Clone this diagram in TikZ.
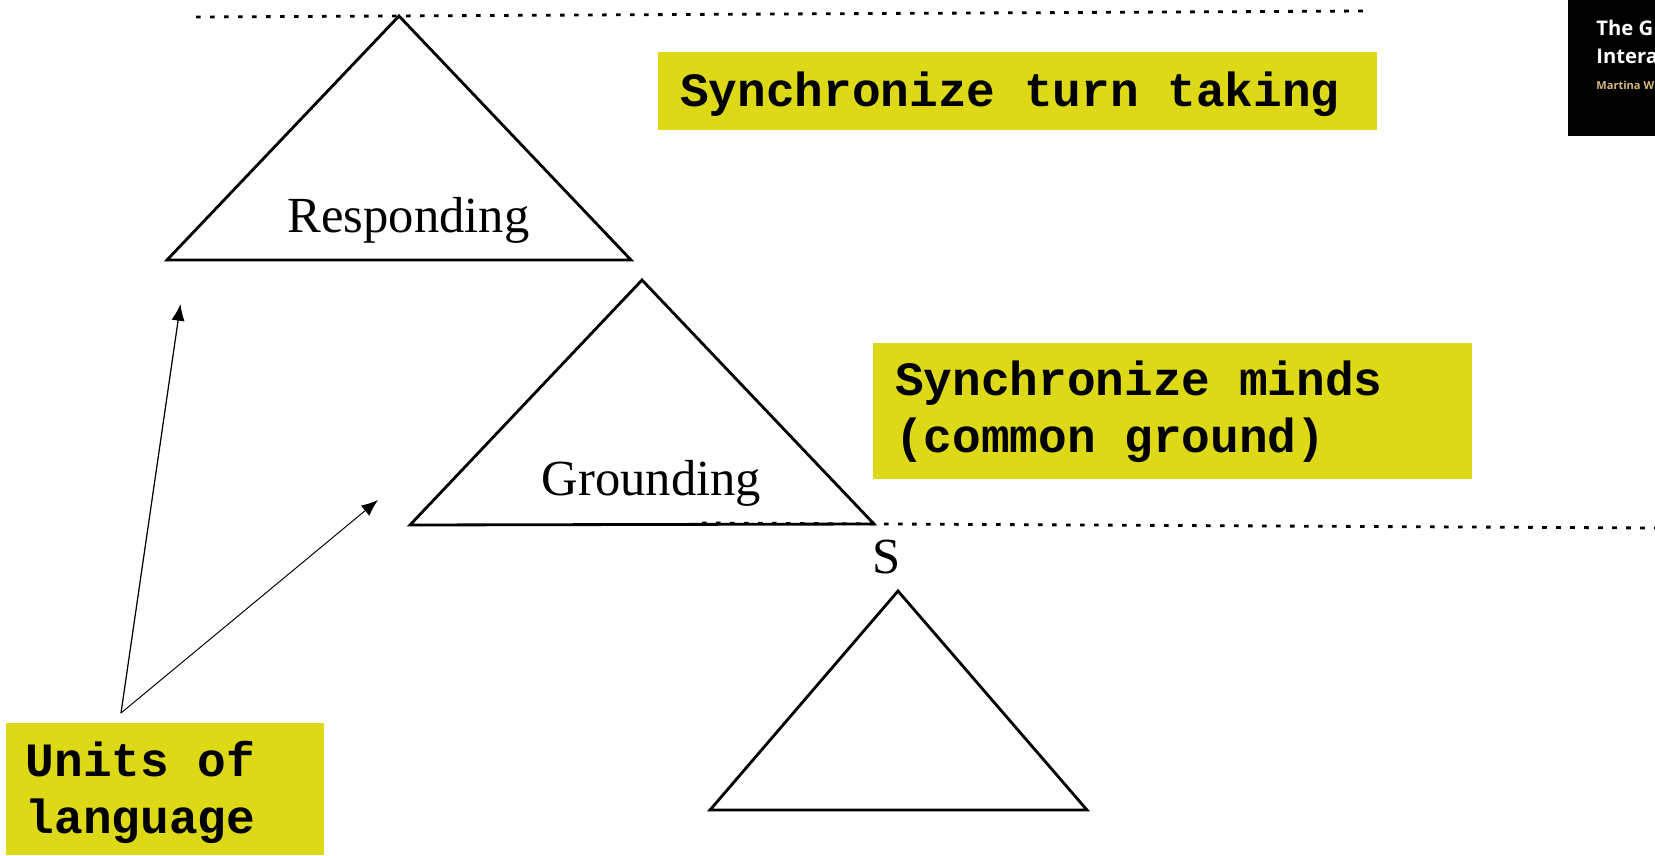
\documentclass[tikz,border=0pt]{standalone}
\usepackage{fontspec}
\setmainfont{Liberation Serif}
\setmonofont{Liberation Mono}
\newfontfamily\coverfont{Open Sans}
\usepackage[x11names, rgb]{xcolor}
\usetikzlibrary{arrows.meta}
\definecolor{boxyellow}{HTML}{DDD916}
\definecolor{covergold}{HTML}{D8B878}
\tikzset{
	triangle/.style = {line width=1.6pt, line join=miter},
	dotline/.style = {line width=1.6pt, dash pattern=on 2.6pt off 5.37pt},
	pointer/.style = {line width=0.7pt, -{Latex[length=9.5pt,width=7.5pt]}},
	word/.style = {anchor=base, inner sep=0pt, font=\fontsize{28.8pt}{32pt}\selectfont},
	goalbox/.style = {fill=boxyellow, anchor=north west, inner xsep=12.4pt, inner ysep=0pt, font=\fontsize{27.2pt}{32.4pt}\selectfont\ttfamily\bfseries, execute at begin node={\spaceskip=16.32pt\relax}},
	covertext/.style = {anchor=base west, inner sep=0pt, text=white, font=\fontsize{11.5pt}{14pt}\selectfont\coverfont\bfseries}
}
\begin{document}
\begin{tikzpicture}[x=0.02cm,y=-0.02cm]
\useasboundingbox (0,0) rectangle (1655,855);

\fill[black] (1568,0) rectangle (1655,136);
\node[covertext] (covertitle) at (1596,36) {The G};
\node[covertext] (coversub) at (1596,64) {Intera};
\node[covertext, text=covergold, font=\fontsize{6.3pt}{9pt}\selectfont\coverfont\bfseries] (coverauthor) at (1596,90) {Martina W};

\coordinate (r1) at (399,16);
\coordinate (r2) at (167,260);
\coordinate (r3) at (631,260);
\coordinate (g1) at (642,280);
\coordinate (g2) at (410,525);
\coordinate (g3) at (874,524);
\coordinate (s1) at (898,591);
\coordinate (s2) at (710,810);
\coordinate (s3) at (1087,810);

\draw[triangle] (r1) -- (r2) -- (r3) -- cycle;
\draw[triangle] (g1) -- (g2) -- (g3) -- cycle;
\draw[triangle] (s1) -- (s2) -- (s3) -- cycle;

\coordinate (top1) at (196,17);
\coordinate (top2) at (1365,11);
\coordinate (low1) at (702,523);
\coordinate (low2) at (1655,528);
\draw[dotline] (top1) -- (top2);
\draw[dotline] (low1) -- (low2);

\node[word] (responding) at (408.5,232.5) {Responding};
\node[word] (grounding) at (651.5,495) {Grounding};
\node[word] (speaker) at (886.5,573) {S};

\node[goalbox, text width=384.2pt, text height=31.1pt, text depth=13.3pt] (turns) at (658,52) {Synchronize turn taking};
\node[goalbox, text width=316.2pt, text height=29.9pt, text depth=47.5pt] (minds) at (873,343) {Synchronize minds\\(common ground)};
\node[goalbox, inner xsep=11pt, text width=159pt, text height=30.5pt, text depth=44.5pt] (units) at (6,723) {Units of\\language};

\coordinate (foot) at (121,713);
\coordinate (toresp) at (180.5,304);
\coordinate (togrnd) at (378,500);
\draw[pointer] (foot) -- (toresp);
\draw[pointer, line width=0.55pt] (foot) -- (togrnd);

\end{tikzpicture}
\end{document}
